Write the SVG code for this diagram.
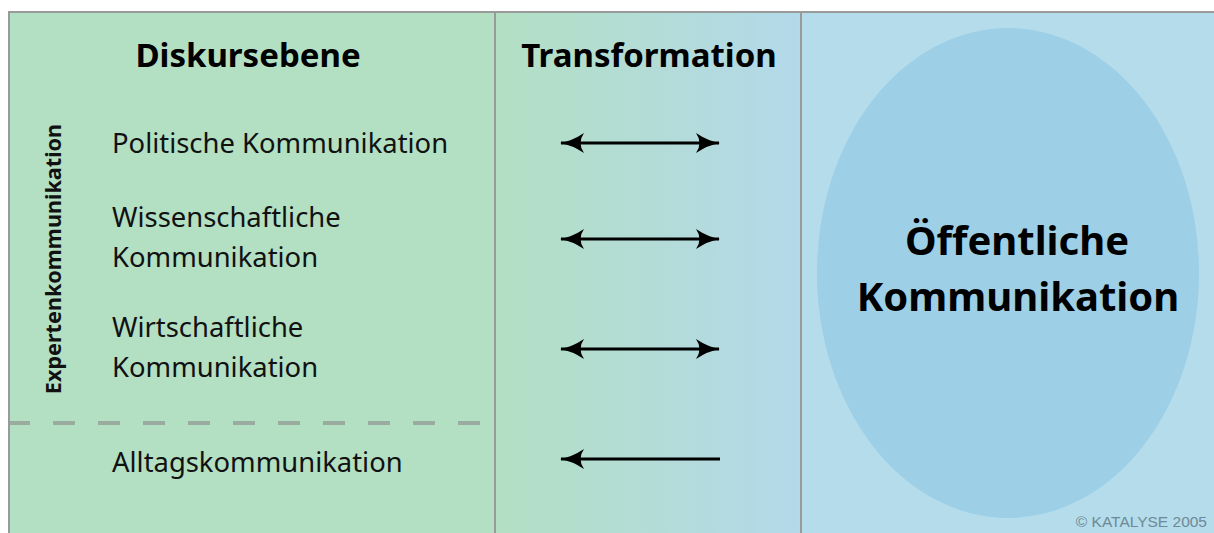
<svg xmlns="http://www.w3.org/2000/svg" width="1214" height="533" viewBox="0 0 1214 533">
<defs>
<linearGradient id="mid" x1="0" y1="0" x2="1" y2="0">
<stop offset="0" stop-color="#b3dfc3"/>
<stop offset="1" stop-color="#b3d9ea"/>
</linearGradient>
<marker id="ah" viewBox="0 0 24 20" refX="23" refY="10" markerWidth="24" markerHeight="20" markerUnits="userSpaceOnUse" orient="auto-start-reverse">
<path d="M0,0 Q12,8 24,10 Q12,12 0,20 Q7,10 0,0 Z" fill="#000"/>
</marker>
<style>
.t{font-family:"Noto Sans","Open Sans",sans-serif;font-size:27.4px;fill:#111}
.v{font-family:"Noto Sans","Open Sans",sans-serif;font-size:21.6px;font-weight:bold;fill:#111}
.h{font-family:"Noto Sans","Open Sans",sans-serif;font-size:33px;font-weight:bold;fill:#000}
.b{font-family:"Noto Sans","Open Sans",sans-serif;font-size:40px;font-weight:bold;fill:#000}
.sep{stroke:#9a9a9a;stroke-width:2}
.arr{stroke:#000;stroke-width:3;fill:none}
</style>
</defs>
<rect x="0" y="0" width="1214" height="533" fill="#fff"/>
<g id="panel-left">
<rect x="8" y="11" width="487" height="522" fill="#b3dfc3"/>
<text class="h" x="248" y="67" text-anchor="middle">Diskursebene</text>
<text class="v" x="0" y="0" text-anchor="middle" transform="translate(61,259) rotate(-90)">Expertenkommunikation</text>
<line x1="8" y1="423" x2="495" y2="423" stroke="#9aab9f" stroke-width="4" stroke-dasharray="22 23"/>
</g>
<g id="panel-mid">
<rect x="495" y="11" width="305" height="522" fill="url(#mid)"/>
<text class="h" x="649" y="67" text-anchor="middle">Transformation</text>
</g>
<g id="panel-right">
<rect x="800" y="11" width="414" height="522" fill="#b5dcea"/>
<ellipse cx="1008" cy="273" rx="191" ry="245" fill="#9dcfe7"/>
<text class="b" x="1017" y="255" text-anchor="middle">Öffentliche</text>
<text class="b" x="1018" y="311" text-anchor="middle">Kommunikation</text>
<text x="1207" y="527" text-anchor="end" font-family="'Liberation Sans',Arial,sans-serif" font-size="15.5" fill="#6d8a96">© KATALYSE 2005</text>
</g>
<g id="frame">
<line class="sep" x1="8" y1="12" x2="1214" y2="12"/>
<line class="sep" x1="9" y1="11" x2="9" y2="533"/>
<line class="sep" x1="495" y1="11" x2="495" y2="533"/>
<line class="sep" x1="801" y1="11" x2="801" y2="533"/>
</g>
<g id="node-politisch"><text class="t" x="112" y="153">Politische Kommunikation</text></g>
<g id="node-wissenschaft"><text class="t" x="112" y="227">Wissenschaftliche</text><text class="t" x="112" y="267">Kommunikation</text></g>
<g id="node-wirtschaft"><text class="t" x="112" y="337">Wirtschaftliche</text><text class="t" x="112" y="377">Kommunikation</text></g>
<g id="node-alltag"><text class="t" x="112" y="472">Alltagskommunikation</text></g>
<g id="connectors">
<line class="arr" x1="561" y1="143" x2="719" y2="143" marker-start="url(#ah)" marker-end="url(#ah)"/>
<line class="arr" x1="561" y1="239" x2="719" y2="239" marker-start="url(#ah)" marker-end="url(#ah)"/>
<line class="arr" x1="561" y1="349" x2="719" y2="349" marker-start="url(#ah)" marker-end="url(#ah)"/>
<line class="arr" x1="561" y1="459" x2="720" y2="459" marker-start="url(#ah)"/>
</g>
</svg>
